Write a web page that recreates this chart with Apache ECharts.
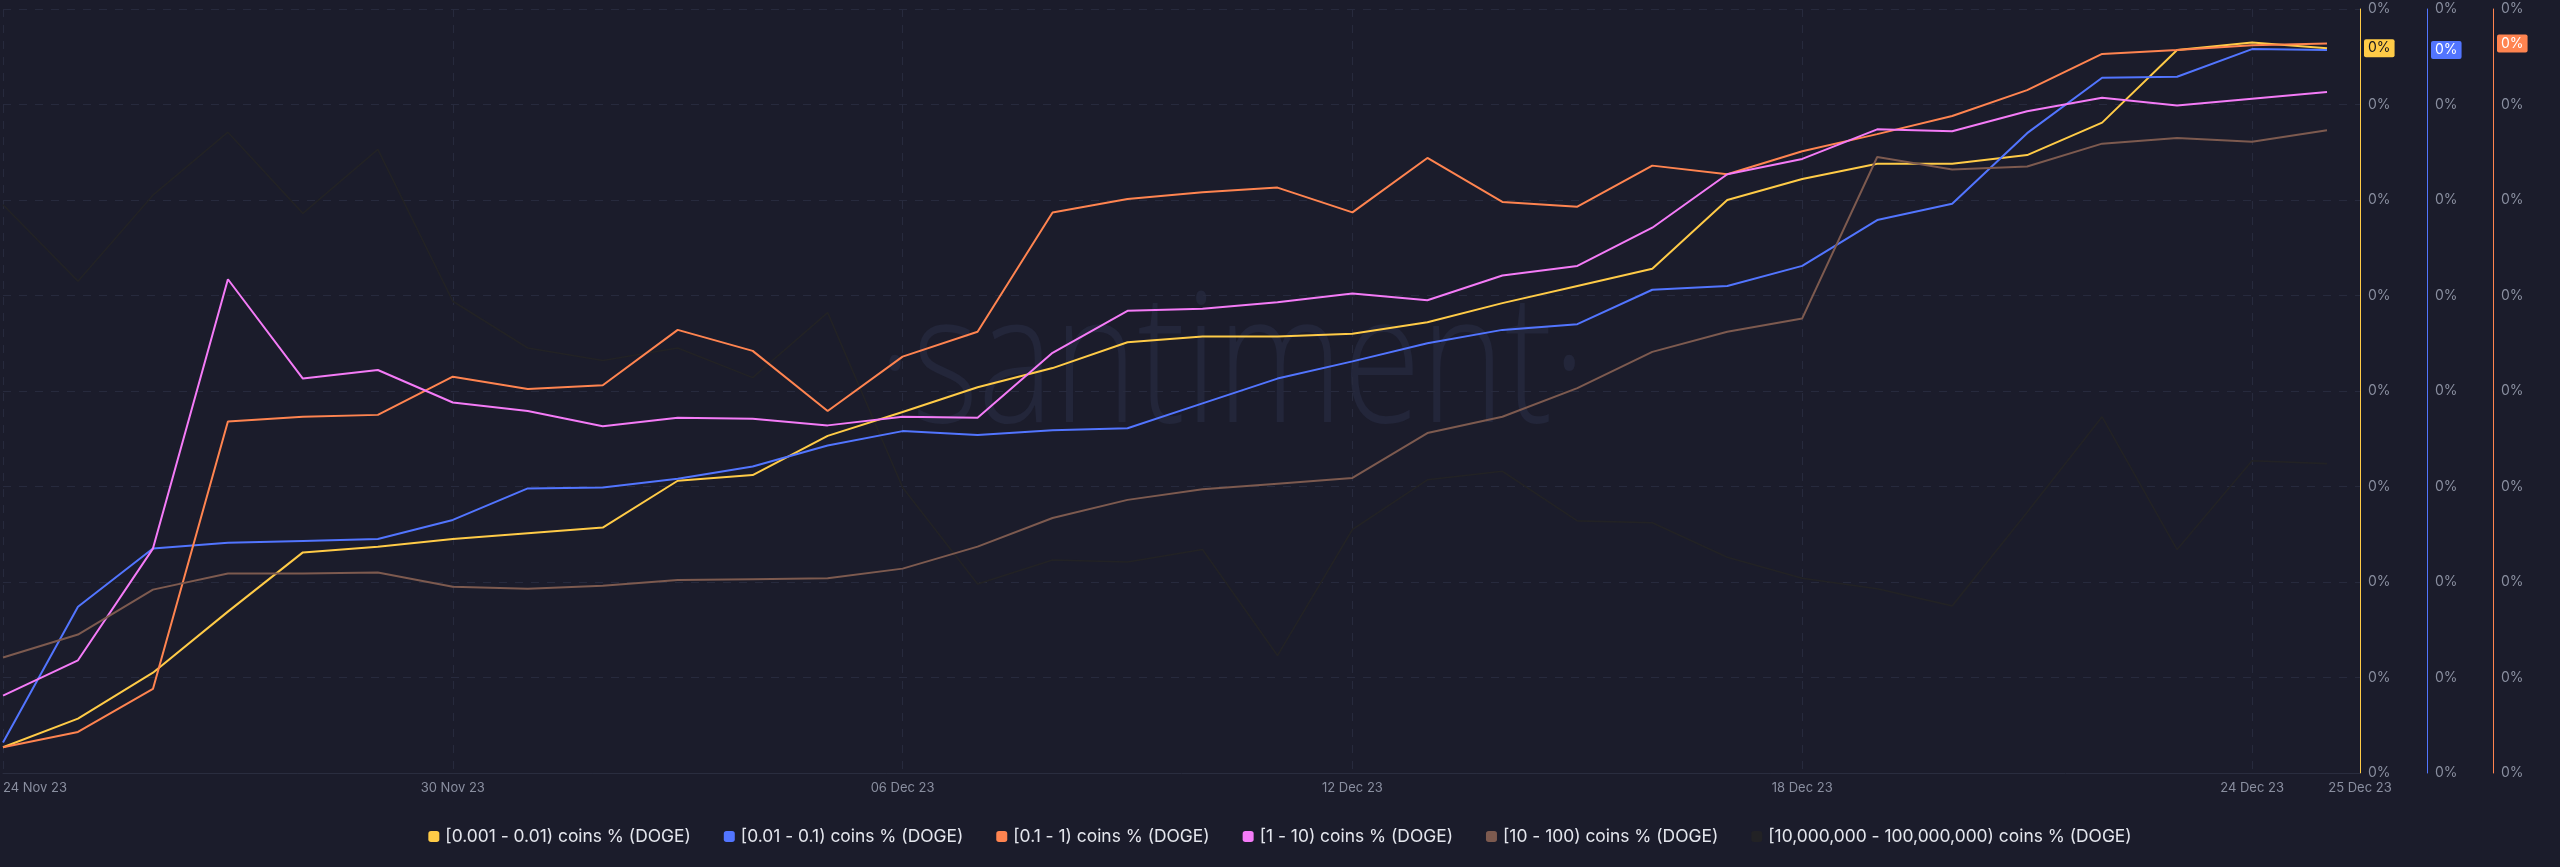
<!DOCTYPE html>
<html>
<head>
<meta charset="utf-8">
<script src="https://cdn.jsdelivr.net/npm/echarts@6/dist/echarts.min.js"></script>
<style>
html,body{margin:0;padding:0;background:#1b1c2b;}
#c{width:2560px;height:867px;}
</style>
</head>
<body>
<div id="c"></div>
<script>
// ---- data ----
const dates = ['24 Nov 23','25 Nov 23','26 Nov 23','27 Nov 23','28 Nov 23','29 Nov 23','30 Nov 23',
  '01 Dec 23','02 Dec 23','03 Dec 23','04 Dec 23','05 Dec 23','06 Dec 23','07 Dec 23','08 Dec 23',
  '09 Dec 23','10 Dec 23','11 Dec 23','12 Dec 23','13 Dec 23','14 Dec 23','15 Dec 23','16 Dec 23',
  '17 Dec 23','18 Dec 23','19 Dec 23','20 Dec 23','21 Dec 23','22 Dec 23','23 Dec 23','24 Dec 23','25 Dec 23'];

const yTickLabels = ['0%','0%','0%','0%','0%','0%','0%','0%','0%'];

const seriesNames = [
  '[0.001 - 0.01) coins % (DOGE)',
  '[0.01 - 0.1) coins % (DOGE)',
  '[0.1 - 1) coins % (DOGE)',
  '[1 - 10) coins % (DOGE)',
  '[10 - 100) coins % (DOGE)',
  '[10,000,000 - 100,000,000) coins % (DOGE)'
];

const coins_0_001_0_01 = [0.27,0.57,1.05,1.69,2.31,2.37,2.45,2.51,2.57,3.06,3.12,3.53,3.78,4.04,4.24,4.51,
  4.57,4.57,4.60,4.72,4.92,5.10,5.28,6.00,6.22,6.38,6.38,6.47,6.81,7.57,7.65,7.59];
const coins_0_01_0_1 = [0.32,1.74,2.35,2.41,2.43,2.45,2.65,2.98,2.99,3.08,3.21,3.43,3.58,3.54,3.59,3.61,
  3.87,4.13,4.31,4.50,4.64,4.70,5.06,5.10,5.31,5.79,5.96,6.70,7.28,7.29,7.58,7.57];
const coins_0_1_1 = [0.27,0.43,0.88,3.68,3.73,3.75,4.15,4.02,4.06,4.64,4.42,3.79,4.36,4.62,5.87,6.01,
  6.08,6.13,5.87,6.44,5.98,5.93,6.36,6.27,6.51,6.69,6.88,7.15,7.53,7.57,7.62,7.64];
const coins_1_10 = [0.81,1.18,2.35,5.17,4.13,4.22,3.88,3.79,3.63,3.72,3.71,3.64,3.73,3.72,4.40,4.84,
  4.86,4.93,5.02,4.95,5.21,5.31,5.71,6.27,6.43,6.74,6.72,6.93,7.07,6.99,7.06,7.13];
const coins_10_100 = [1.21,1.45,1.92,2.09,2.09,2.10,1.95,1.93,1.96,2.02,2.03,2.04,2.14,2.37,2.67,2.86,
  2.97,3.03,3.09,3.56,3.73,4.03,4.41,4.62,4.76,6.45,6.32,6.35,6.59,6.65,6.61,6.73];
const coins_10m_100m = [5.95,5.15,6.05,6.71,5.86,6.53,4.94,4.45,4.32,4.45,4.14,4.82,2.99,1.98,2.23,2.21,
  2.34,1.23,2.55,3.07,3.16,2.64,2.62,2.26,2.04,1.93,1.75,2.73,3.73,2.34,3.27,3.24];

// ---- styles ----
const seriesValues = [coins_0_001_0_01, coins_0_01_0_1, coins_0_1_1, coins_1_10, coins_10_100, coins_10m_100m];
const colors = ['#ffcb47', '#5275ff', '#ff8450', '#f47bf7', '#7d5a4f', '#222225'];
const axisOffsets = [0, 67, 133, 0, 0, 0];
const badgeText = ['#14151f', '#ffffff', '#ffffff'];
const FONT = 'Inter, "Noto Sans", sans-serif';
const BG = '#1b1c2b';
const GRID_COLOR = '#272a3d';

const chart = echarts.init(document.getElementById('c'), null, {renderer: 'canvas'});

const yAxes = seriesValues.map((vals, i) => {
  const visible = i < 3;
  const ax = {
    type: 'value',
    position: 'right',
    offset: axisOffsets[i],
    min: 0, max: 8, interval: 1,
    show: visible,
    axisLine: {show: true, onZero: false, lineStyle: {color: colors[i], width: 1}},
    axisTick: {show: false},
    axisLabel: {
      color: '#8a8fa0', fontSize: 14, fontFamily: FONT, margin: 8,
      formatter: v => yTickLabels[Math.round(v)]
    },
    splitLine: {show: i === 0, lineStyle: {color: GRID_COLOR, type: [8, 8], width: 1}}
  };
  if (visible) {
    ax.axisPointer = {
      show: true, type: 'line', snap: false, triggerTooltip: false,
      value: vals[vals.length - 1], status: 'show',
      lineStyle: {opacity: 0},
      label: {
        show: true, margin: 4,
        formatter: () => yTickLabels[0],
        backgroundColor: colors[i], color: badgeText[i],
        padding: [2, 4, 2, 4], borderRadius: 2,
        fontSize: 14, fontFamily: FONT
      }
    };
  }
  return ax;
});

const option = {
  backgroundColor: BG,
  animation: false,
  grid: {left: 0, right: 200, top: 9, bottom: 94, containLabel: false},
  graphic: [{
    type: 'text', x: 878, y: 371, z: 0, silent: true, scaleX: 0.79,
    style: {
      text: '\u00b7santiment\u00b7', fill: '#23263a',
      font: '300 180px "Open Sans"', verticalAlign: 'middle', align: 'left'
    }
  }],
  legend: {
    data: seriesNames,
    left: 'center', top: 823,
    icon: 'roundRect', itemWidth: 11, itemHeight: 11, itemGap: 33,
    textStyle: {color: '#e4e6ed', fontSize: 17.4, fontFamily: FONT, padding: [0, 0, 0, 1]}
  },
  xAxis: {
    type: 'value', min: 0, max: 31.44, interval: 6,
    axisLine: {show: true, onZero: false, lineStyle: {color: '#2a2d3f', width: 1}},
    axisTick: {show: false},
    axisLabel: {
      color: '#8a8fa0', fontSize: 13, fontFamily: FONT, margin: 9,
      showMinLabel: true, showMaxLabel: true, alignMinLabel: 'left',
      formatter: v => dates[Math.floor(v + 1e-6)]
    },
    splitLine: {show: true, lineStyle: {color: GRID_COLOR, type: [8, 8], width: 1}}
  },
  yAxis: yAxes,
  series: seriesValues.map((vals, i) => ({
    name: seriesNames[i],
    type: 'line',
    yAxisIndex: i,
    data: vals.map((v, k) => [k, v]),
    symbol: 'none',
    showSymbol: false,
    z: i === 5 ? 1 : 3,
    lineStyle: {color: colors[i], width: i === 5 ? 1.6 : 2},
    itemStyle: {color: colors[i]}
  }))
};
chart.setOption(option);
</script>
</body>
</html>
